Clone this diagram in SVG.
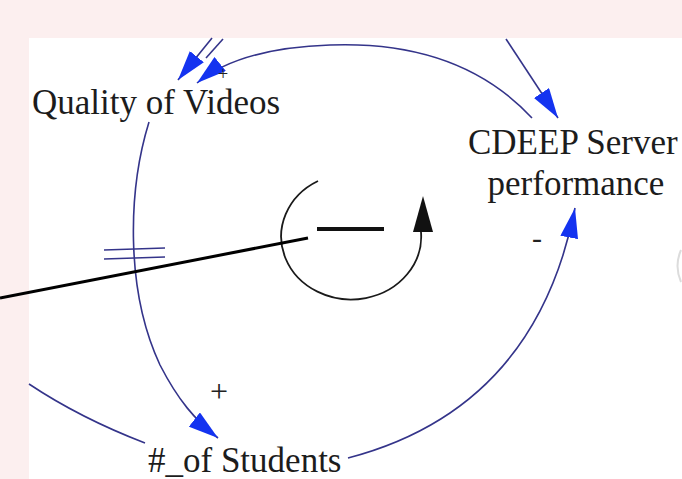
<svg xmlns="http://www.w3.org/2000/svg" width="682" height="479" viewBox="0 0 682 479">
  <style>
    .lbl { font-family: "Liberation Serif", "Times New Roman", serif; font-size: 35px; fill: #1c1c1c; }
    .sign { font-family: "Liberation Serif", "Times New Roman", serif; fill: #222; }
    .link { fill: none; stroke: #34348a; stroke-width: 1.6; }
    .loop { fill: none; stroke: #1a1a1a; stroke-width: 1.8; }
  </style>
  <defs>
    <marker id="arr" viewBox="0 0 30 18" refX="30" refY="9" markerWidth="30" markerHeight="18" markerUnits="userSpaceOnUse" orient="auto">
      <path d="M0,0 L30,9 L0,18 Z" fill="#1433f0"/>
    </marker>
  </defs>

  <rect x="0" y="0" width="682" height="479" fill="#fcefef"/>
  <rect x="29" y="38" width="653" height="441" fill="#ffffff"/>

  <g id="connectors">
    <!-- from above into Quality of Videos -->
    <path class="link" d="M212,38 L178,80" marker-end="url(#arr)"/>
    <path class="link" d="M223,39 L206,58"/>
    <!-- CDEEP Server performance -> Quality of Videos -->
    <path class="link" d="M532,118 C480,62 410,42 330,45 C270,47 225,60 197,83" marker-end="url(#arr)"/>
    <!-- from above into CDEEP Server -->
    <path class="link" d="M506,39 L558,118" marker-end="url(#arr)"/>
    <!-- Quality of Videos -> # of Students (delayed) -->
    <path class="link" d="M149,122 C128,190 125,290 160,365 C178,400 195,420 218,438" marker-end="url(#arr)"/>
    <path class="link" d="M104,250 L165,248"/>
    <path class="link" d="M104,259 L165,257"/>
    <!-- from left into # of Students -->
    <path class="link" d="M29,384 Q80,418 145,443"/>
    <!-- # of Students -> CDEEP Server performance -->
    <path class="link" d="M348,458 C455,430 545,360 575,208" marker-end="url(#arr)"/>
    <!-- faint partial at right edge -->
    <path d="M681,250 Q674,266 681,282" fill="none" stroke="#dcdcdc" stroke-width="2"/>
  </g>

  <g id="polarities">
    <text class="sign" x="223" y="80" font-size="18" text-anchor="middle">+</text>
    <text class="sign" x="219" y="402" font-size="32" text-anchor="middle">+</text>
    <text class="sign" x="537" y="248" font-size="30" text-anchor="middle">-</text>
  </g>

  <g id="quality">
    <text class="lbl" x="32" y="114">Quality of Videos</text>
  </g>
  <g id="cdeep">
    <text class="lbl" x="468" y="154">CDEEP Server</text>
    <text class="lbl" x="576" y="195" text-anchor="middle">performance</text>
  </g>
  <g id="students">
    <text class="lbl" x="148" y="472">#_of Students</text>
  </g>

  <g id="loop-symbol">
    <path class="loop" d="M318,181 A70,63 0 1 0 421,232"/>
    <polygon points="423,196 413,232 433,232" fill="#111"/>
    <line x1="317" y1="229" x2="384" y2="229" stroke="#111" stroke-width="4"/>
  </g>

  <g id="pointer">
    <line x1="0" y1="298" x2="308" y2="238" stroke="#000" stroke-width="3"/>
  </g>
</svg>
